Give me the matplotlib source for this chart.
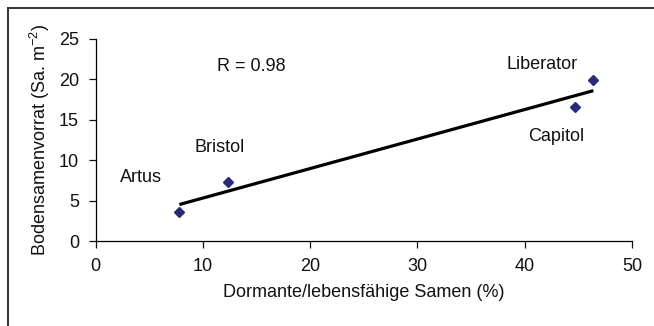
import numpy as np
import matplotlib
matplotlib.use('Agg')
import matplotlib.pyplot as plt
from matplotlib.lines import Line2D

# values
varieties = ["Artus", "Bristol", "Capitol", "Liberator"]
dormant_pct = [7.8, 12.3, 44.7, 46.4]
seedbank = [3.6, 7.25, 16.5, 19.85]
label_pos = [(4.2, 7.9), (11.6, 11.5), (42.9, 12.9), (41.6, 21.8)]
x_ticks = [0, 10, 20, 30, 40, 50]
y_ticks = [0, 5, 10, 15, 20, 25]

plt.rcParams['font.family'] = ['Liberation Sans', 'DejaVu Sans']
plt.rcParams['mathtext.default'] = 'regular'
fs = 13

fig = plt.figure(figsize=(6.54, 3.26), dpi=100)
ax = fig.add_axes([0.1463, 0.2607, 0.8201, 0.6206])

x = np.array(dormant_pct)
y = np.array(seedbank)
slope, icpt = np.polyfit(x, y, 1)
r = np.corrcoef(x, y)[0, 1]
xs = np.array([x.min(), x.max()])
ax.plot(xs, slope * xs + icpt, color='black', lw=2.3, solid_capstyle='butt', zorder=2)
ax.plot(x, y, linestyle='none', marker='D', ms=5.6, color='#2b2a75', zorder=3)

for name, (lx, ly) in zip(varieties, label_pos):
    ax.text(lx, ly, name, ha='center', va='center', fontsize=fs, color='#111111')
ax.text(11.3, 21.6, f"R = {r:.2f}", ha='left', va='center', fontsize=fs, color='#111111')

ax.set_xlim(0, 50)
ax.set_ylim(0, 25)
ax.set_xticks(x_ticks)
ax.set_yticks(y_ticks)
ax.tick_params(direction='out', length=5, width=0.9, labelsize=fs, colors='#111111', pad=7)
for s in ['top', 'right']:
    ax.spines[s].set_visible(False)
for s in ['left', 'bottom']:
    ax.spines[s].set_linewidth(0.9)
ax.set_xlabel("Dormante/lebensfähige Samen (%)", fontsize=fs, color='#111111', labelpad=7)
ax.set_ylabel("Bodensamenvorrat (Sa. m$^{-2}$)", fontsize=fs, color='#111111', labelpad=5)

# outer chart border (only left and top visible in the crop)
fig.add_artist(Line2D([7.5 / 654, 7.5 / 654], [0, 1 - 7.5 / 326], color='#333333', lw=1.4))
fig.add_artist(Line2D([7.5 / 654, 1], [1 - 7.5 / 326, 1 - 7.5 / 326], color='#333333', lw=1.4))

fig.savefig("out.png", dpi=100)
